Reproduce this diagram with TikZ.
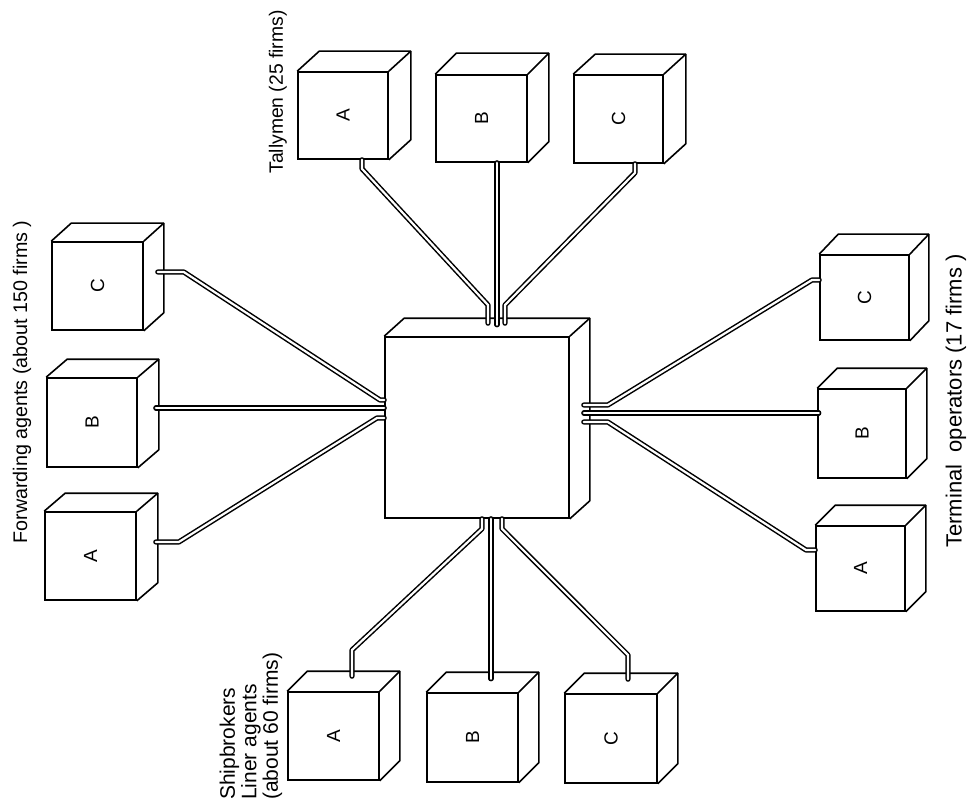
\documentclass[tikz,border=0pt]{standalone}
\usepackage{fontspec}
\setmainfont{Liberation Sans}
\tikzset{
  cubeline/.style={line width=1.6pt, line join=round},
  cubefront/.style={draw, line width=1.6pt, fill=white, inner sep=0pt, font=\fontsize{19}{19}\selectfont},
  pipe/.style={draw, line width=1.5pt, double=white, double distance=2.2pt, line cap=round, line join=round},
  lbl/.style={inner sep=0pt, rotate=90},
}
\newcommand\mycube[8]{%
  \node[cubefront, minimum width={(#4-#2)*1pt}, minimum height={(#5-#3)*1pt}] (#1) at ({(#2+#4)/2},{(#3+#5)/2}) {\rotatebox{90}{#8}};
  \draw[cubeline] (#1.north west) -- ++(#6,#7) -- ([shift={(#6,#7)}]#1.north east) -- ([shift={(#6,#7)}]#1.south east) -- (#1.south east);
  \draw[cubeline] (#1.north east) -- ++(#6,#7);
}
\begin{document}
\begin{tikzpicture}[x=1pt,y=-1pt]
\useasboundingbox (0,0) rectangle (969,802);
% cubes
\mycube{ta}{298}{72}{388}{159}{22}{-20}{A}
\mycube{tb}{436}{75}{527}{162}{21}{-21}{B}
\mycube{tc}{574}{75}{663}{163}{22}{-20}{C}
\mycube{fc}{52}{242}{143}{330}{20}{-18}{C}
\mycube{fb}{47}{378}{137}{467}{21}{-18}{B}
\mycube{fa}{45}{512}{136}{600}{21}{-18}{A}
\mycube{hub}{385}{337}{569}{518}{20}{-18}{}
\mycube{toc}{820}{255}{909}{340}{19}{-20}{C}
\mycube{tob}{818}{389}{906}{478}{20}{-20}{B}
\mycube{toa}{816}{526}{905}{611}{20}{-20}{A}
\mycube{sa}{288}{692}{379}{780}{20}{-20}{A}
\mycube{sb}{427}{693}{518}{782}{20}{-20}{B}
\mycube{sc}{565}{694}{657}{783}{20}{-20}{C}
% tallymen pipes
\draw[pipe] ([xshift=19pt]ta.south) -- ++(0,9) -- (488,305) -- ([xshift=11pt,yshift=13pt]hub.north);
\draw[pipe] ([xshift=15.5pt]tb.south) -- ++(0,162);
\draw[pipe] ([xshift=16.5pt]tc.south) -- ++(0,9) -- (505,305) -- ([xshift=28pt,yshift=13pt]hub.north);
% shipbrokers pipes
\draw[pipe] ([xshift=5pt]hub.south) -- ++(0,10) -- (352,650) -- ([xshift=18.5pt,yshift=15pt]sa.north);
\draw[pipe] ([xshift=14pt]hub.south) -- ++(0,160);
\draw[pipe] ([xshift=25pt]hub.south) -- ++(0,10) -- (628,655) -- ([xshift=17pt,yshift=14pt]sc.north);
% forwarding pipes
\draw[pipe] ([xshift=14pt,yshift=14pt]fc.east) -- ++(26,0) -- (380,400) -- ([yshift=27.5pt]hub.west);
\draw[pipe] ([xshift=18pt,yshift=14.5pt]fb.east) -- ([yshift=14.5pt]fb.east -| hub.west);
\draw[pipe] ([xshift=19pt,yshift=14pt]fa.east) -- ++(23,0) -- (377,418) -- ([yshift=9.5pt]hub.west);
% terminal pipes
\draw[pipe] ([xshift=14pt,yshift=22.5pt]hub.east) -- ++(24,0) -- (812,280) -- ([yshift=17.5pt]toc.west);
\draw[pipe] ([xshift=14pt,yshift=14.5pt]hub.east) -- ++(235,0);
\draw[pipe] ([xshift=14pt,yshift=5.5pt]hub.east) -- ++(24,0) -- (806,550) -- ([yshift=18.5pt]toa.west);
% labels
\node[lbl, font=\fontsize{19.3}{23}\selectfont] (ltal) at (278,92) {Tallymen (25 firms)};
\node[lbl, font=\fontsize{19.7}{23}\selectfont] (lfwd) at (22,382) {Forwarding agents (about 150 firms )};
\node[lbl, font=\fontsize{22}{25}\selectfont] (lter) at (956,401) {Terminal\ \ operators (17 firms )};
\node[lbl, font=\fontsize{21}{21.5}\selectfont, align=left, anchor=west] (lshp) at (251,800) {Shipbrokers\\Liner agents\\(about 60 firms)};
\end{tikzpicture}
\end{document}
